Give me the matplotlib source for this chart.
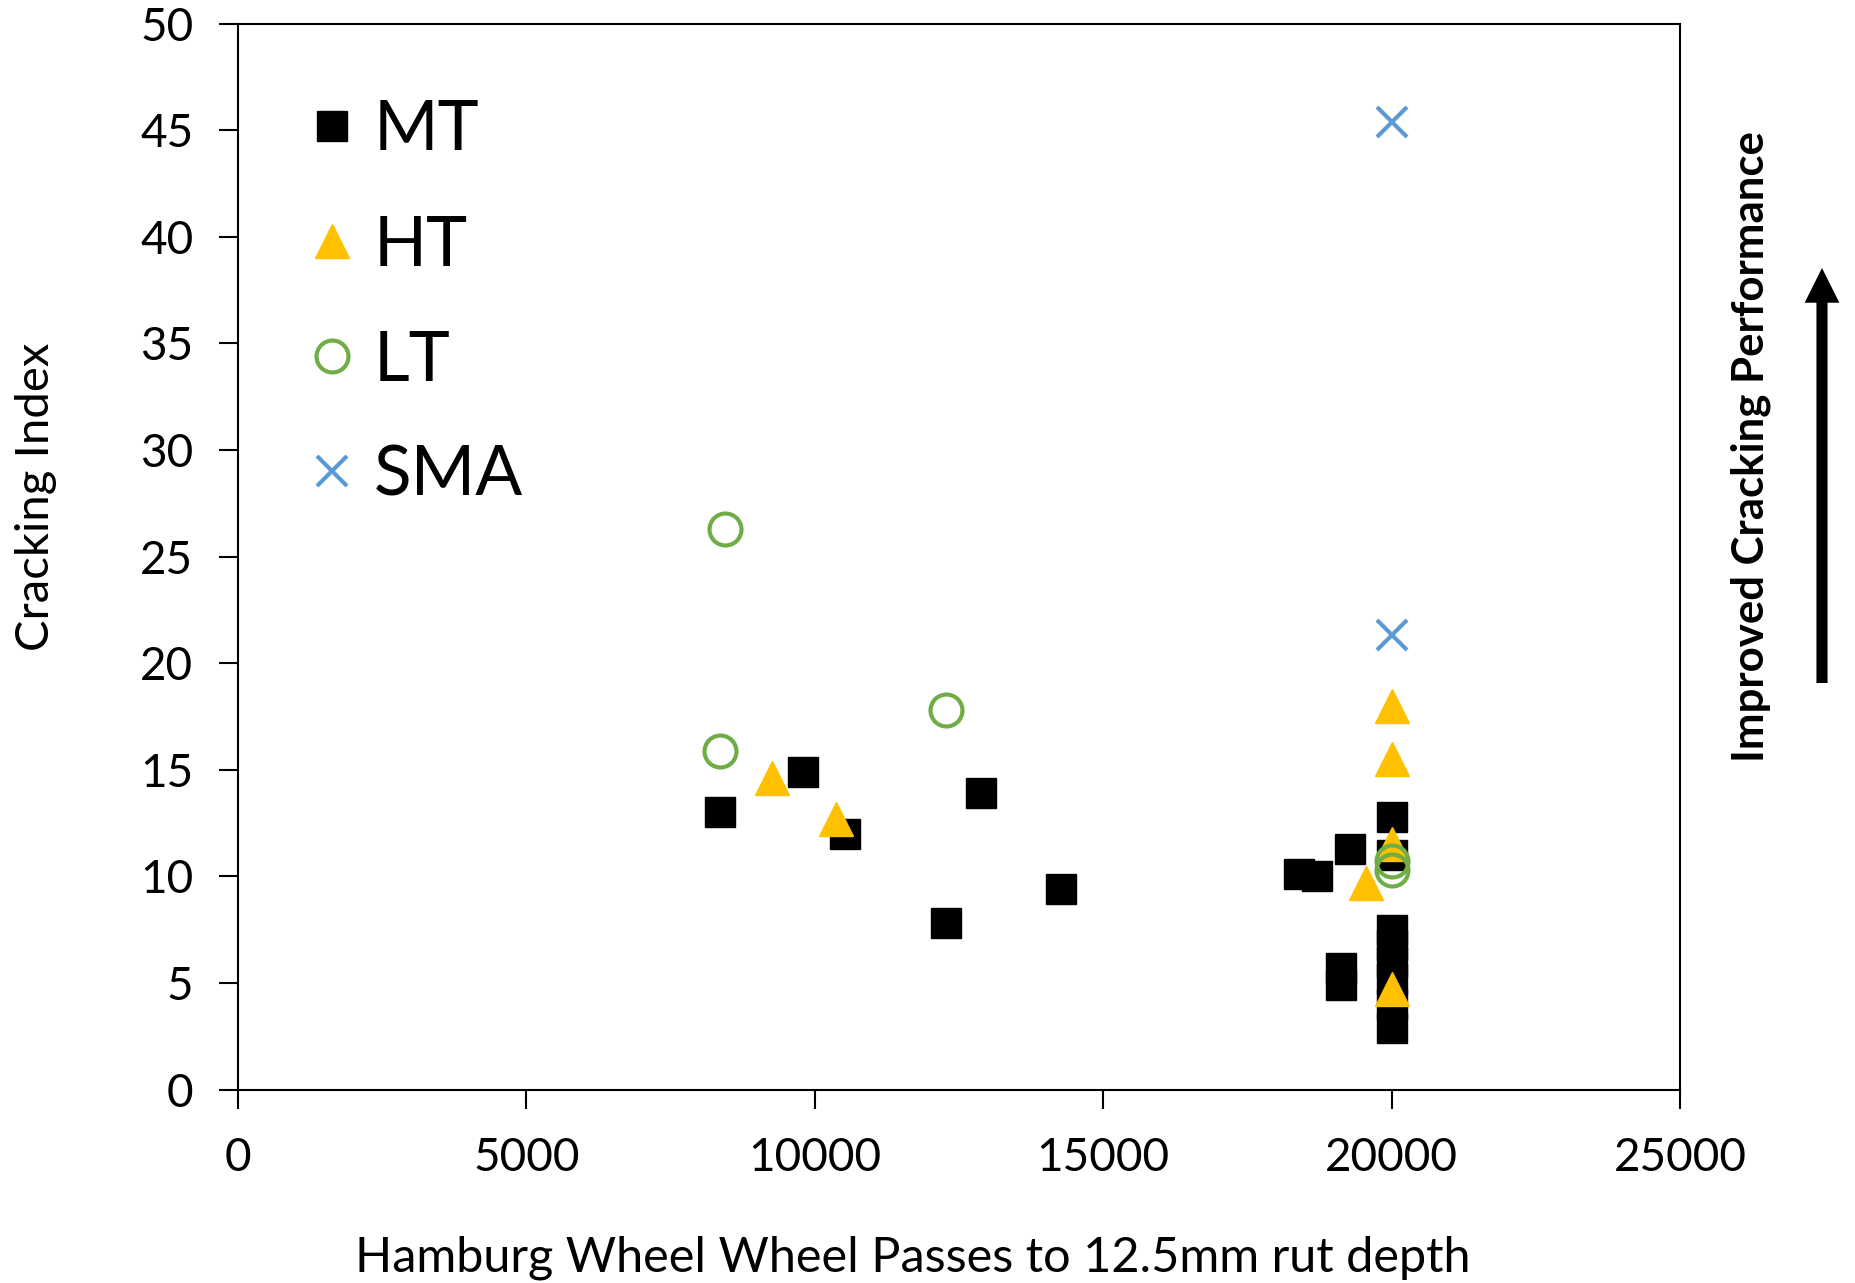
import matplotlib
matplotlib.use("Agg")
import matplotlib.pyplot as plt
from matplotlib.patches import FancyArrowPatch

plt.rcParams['font.family'] = ['Lato', 'DejaVu Sans']

# Data (Hamburg wheel passes, cracking index)
mt_x = [8350, 9790, 10530, 12280, 12880, 14270, 18400, 18700, 19270, 19130, 19130,
        20000, 20000, 20000, 20000, 20000, 20000, 20000, 20000]
mt_y = [13.0, 14.9, 12.0, 7.8, 13.9, 9.4, 10.1, 10.0, 11.3, 5.7, 4.9,
        12.8, 11.0, 7.5, 6.8, 6.0, 5.2, 4.0, 2.9]
ht_x = [9260, 10370, 19560, 20000, 20000, 20000, 20000]
ht_y = [14.6, 12.7, 9.7, 18.0, 15.5, 11.5, 4.7]
lt_x = [8450, 8350, 12280, 20000, 20000]
lt_y = [26.3, 15.9, 17.8, 10.7, 10.3]
sma_x = [20000, 20000]
sma_y = [45.4, 21.3]

x_ticks = [0, 5000, 10000, 15000, 20000, 25000]
y_ticks = [0, 5, 10, 15, 20, 25, 30, 35, 40, 45, 50]

fig = plt.figure(figsize=(18.55, 12.83), dpi=100)
ax = fig.add_axes([0.1282, 0.1508, 0.7775, 0.8307])

ax.plot(mt_x, mt_y, linestyle='none', marker='s', markersize=22, color='black', label='MT')
ax.plot(ht_x, ht_y, linestyle='none', marker='^', markersize=24, color='#FFC000', label='HT')
ax.plot(lt_x, lt_y, linestyle='none', marker='o', markersize=23, markerfacecolor='none',
        markeredgecolor='#70AD47', markeredgewidth=3, label='LT')
ax.plot(sma_x, sma_y, linestyle='none', marker='x', markersize=21, color='#5B9BD5',
        markeredgewidth=3, label='SMA')

ax.set_xlim(0, 25000)
ax.set_ylim(0, 50)
ax.set_xticks(x_ticks)
ax.set_yticks(y_ticks)
ax.tick_params(axis='both', labelsize=33, direction='out', length=14, width=1.5)
ax.tick_params(axis='x', pad=20)
ax.tick_params(axis='y', pad=18)
for s in ax.spines.values():
    s.set_linewidth(1.5)

ax.set_xlabel('Hamburg Wheel Wheel Passes to 12.5mm rut depth', fontsize=35, labelpad=41, x=0.468)
ax.set_ylabel('Cracking Index', fontsize=34, labelpad=60, y=0.556)

leg = ax.legend(loc='upper left', bbox_to_anchor=(0.027, 0.955), frameon=False,
                fontsize=50, labelspacing=0.75, handletextpad=0.2, markerscale=1.0,
                handlelength=0.8, borderaxespad=0)

fig.text(0.944, 0.652, 'Improved Cracking Performance', rotation=90, fontsize=31.5,
         fontweight='bold', ha='center', va='center')
fig.add_artist(FancyArrowPatch(
    (1822, 1283 - 683), (1822, 1283 - 268), transform=None,
    arrowstyle='simple,head_length=25,head_width=25,tail_width=8',
    mutation_scale=1, shrinkA=0, shrinkB=0, color='black', linewidth=0))

fig.savefig('out.png', dpi=100)
